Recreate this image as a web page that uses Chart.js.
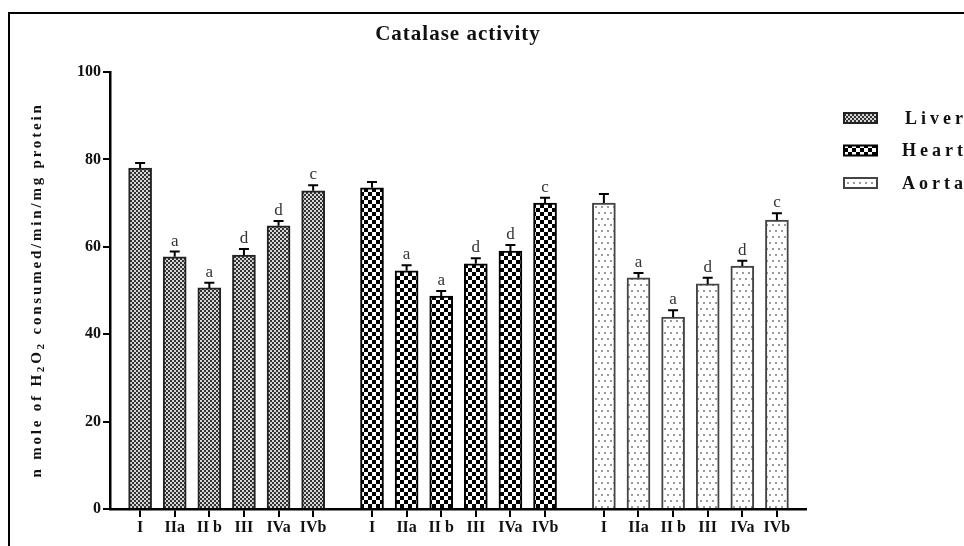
<!DOCTYPE html>
<html>
<head>
<meta charset="utf-8">
<script src="https://cdn.jsdelivr.net/npm/chart.js@4/dist/chart.umd.min.js"></script>
<style>
  body { margin: 0; background: #fff; }
  #wrap { width: 964px; height: 546px; }
</style>
</head>
<body>
<div id="wrap"><canvas id="chart" width="964" height="546"></canvas></div>
<script>
// data
const tissues = ['Liver', 'Heart', 'Aorta'];
const groups = ['I', 'IIa', 'II b', 'III', 'IVa', 'IVb'];
const liver = [78.0, 57.7, 50.6, 58.1, 64.8, 72.8];
const heart = [73.5, 54.5, 48.7, 56.1, 59.0, 70.0];
const aorta = [70.0, 52.9, 43.9, 51.5, 55.6, 66.1];
const liverErr = [1.2, 1.2, 1.2, 1.4, 1.1, 1.3];
const heartErr = [1.3, 1.3, 1.2, 1.3, 1.4, 1.2];
const aortaErr = [2.1, 1.1, 1.6, 1.4, 1.2, 1.6];
const liverSig = ['', 'a', 'a', 'd', 'd', 'c'];
const heartSig = ['', 'a', 'a', 'd', 'd', 'c'];
const aortaSig = ['', 'a', 'a', 'd', 'd', 'c'];

const SERIF = '"Liberation Serif", "DejaVu Serif", serif';
const GROUP_STEP = 6.7;   // slot distance between first bars of each tissue

// fill patterns
const makeTile = (w, h, draw) => {
  const c = document.createElement('canvas');
  c.width = w; c.height = h;
  const g = c.getContext('2d');
  draw(g);
  return g.createPattern(c, 'repeat');
};

const liverFill = makeTile(4, 4, g => {
  g.fillStyle = '#333';
  g.fillRect(0, 0, 4, 4);
  g.fillStyle = '#d6d6d6';
  g.fillRect(0, 0, 2, 2);
  g.fillRect(2, 2, 2, 2);
});
const heartFill = makeTile(8, 8, g => {
  g.fillStyle = '#fff';
  g.fillRect(0, 0, 8, 8);
  g.fillStyle = '#000';
  g.fillRect(0, 0, 4, 4);
  g.fillRect(4, 4, 4, 4);
});
const aortaFill = makeTile(6, 12, g => {
  g.fillStyle = '#fff';
  g.fillRect(0, 0, 6, 12);
  g.fillStyle = '#9a9a9a';
  g.fillRect(1, 2, 2, 2);
  g.fillRect(4, 8, 2, 2);
});

const fills = [liverFill, heartFill, aortaFill];
const edges = ['#222', '#000', '#444'];
const values = [liver, heart, aorta];
const errs = [liverErr, heartErr, aortaErr];
const sigs = [liverSig, heartSig, aortaSig];

const tickPos = [];
tissues.forEach((t, g) => groups.forEach((_, i) => tickPos.push(g * GROUP_STEP + i)));

const datasets = tissues.map((t, g) => ({
  label: t,
  data: values[g].map((v, i) => ({ x: g * GROUP_STEP + i, y: v })),
  backgroundColor: fills[g],
  borderColor: edges[g],
  borderWidth: 2,
  borderSkipped: 'bottom',
  barThickness: 23,
  grouped: false
}));

// error bars + significance letters
const errorBars = {
  id: 'errorBars',
  afterDatasetsDraw(chart) {
    const ctx = chart.ctx;
    const y = chart.scales.y;
    ctx.save();
    ctx.strokeStyle = '#000';
    ctx.lineWidth = 2;
    ctx.fillStyle = '#333';
    ctx.font = '17px ' + SERIF;
    ctx.textAlign = 'center';
    ctx.textBaseline = 'alphabetic';
    chart.data.datasets.forEach((ds, g) => {
      const meta = chart.getDatasetMeta(g);
      meta.data.forEach((bar, i) => {
        const top = y.getPixelForValue(values[g][i] + errs[g][i]);
        ctx.beginPath();
        ctx.moveTo(bar.x, bar.y);
        ctx.lineTo(bar.x, top);
        ctx.moveTo(bar.x - 5, top);
        ctx.lineTo(bar.x + 5, top);
        ctx.stroke();
        if (sigs[g][i]) ctx.fillText(sigs[g][i], bar.x, top - 6);
      });
    });
    ctx.restore();
  }
};

// frame, title, y title, legend
const decor = {
  id: 'decor',
  afterDraw(chart) {
    const ctx = chart.ctx;
    ctx.save();
    ctx.strokeStyle = '#000';
    ctx.lineWidth = 2;
    ctx.beginPath();
    ctx.moveTo(9, 546);
    ctx.lineTo(9, 13);
    ctx.lineTo(964, 13);
    ctx.stroke();

    ctx.fillStyle = '#111';
    ctx.textAlign = 'center';
    ctx.textBaseline = 'middle';
    ctx.font = 'bold 21px ' + SERIF;
    ctx.letterSpacing = '1px';
    ctx.fillText('Catalase activity', 458, 35);

    // rotated y title with subscripts
    ctx.save();
    ctx.translate(37, 290);
    ctx.rotate(-Math.PI / 2);
    ctx.letterSpacing = '2.8px';
    const parts = [['n mole of H', 15], ['2', 11], ['O', 15], ['2', 11], [' consumed/min/mg protein', 15]];
    let total = 0;
    parts.forEach(p => { ctx.font = 'bold ' + p[1] + 'px ' + SERIF; total += ctx.measureText(p[0]).width; });
    let x = -total / 2;
    ctx.textAlign = 'left';
    parts.forEach(p => {
      ctx.font = 'bold ' + p[1] + 'px ' + SERIF;
      ctx.fillText(p[0], x, p[1] < 15 ? 4 : 0);
      x += ctx.measureText(p[0]).width;
    });
    ctx.restore();

    // legend
    ctx.font = 'bold 18px ' + SERIF;
    ctx.letterSpacing = '4px';
    ctx.textAlign = 'left';
    tissues.forEach((t, g) => {
      const cy = 118 + g * 32.5;
      ctx.fillStyle = fills[g];
      ctx.fillRect(844, cy - 5, 33, 10);
      ctx.strokeStyle = edges[g];
      ctx.lineWidth = 2;
      ctx.strokeRect(844, cy - 5, 33, 10);
      ctx.fillStyle = '#111';
      const w = ctx.measureText(t).width;
      ctx.fillText(t, 967 - w, cy + 1);
    });
    ctx.restore();
  }
};

new Chart(document.getElementById('chart'), {
  type: 'bar',
  data: { datasets },
  options: {
    responsive: false,
    animation: false,
    layout: { padding: { left: 10, top: 72, right: 158, bottom: 0 } },
    plugins: { legend: { display: false }, title: { display: false }, tooltip: { enabled: false } },
    scales: {
      x: {
        type: 'linear',
        offset: false,
        min: -0.87,
        max: 2 * GROUP_STEP + 5 + 0.84,
        afterBuildTicks: s => { s.ticks = tickPos.map(v => ({ value: v })); },
        afterFit: s => { s.height = 37; },
        border: { display: true, color: '#000', width: 2.5 },
        grid: { display: true, offset: false, drawOnChartArea: false, drawTicks: true, tickLength: 8, color: '#000', lineWidth: 2 },
        ticks: {
          autoSkip: false,
          maxRotation: 0,
          padding: 1,
          color: '#111',
          font: { family: SERIF, weight: 'bold', size: 16 },
          callback: (v, i) => groups[i % groups.length]
        }
      },
      y: {
        min: 0,
        max: 100,
        afterFit: s => { s.width = 100; },
        border: { display: true, color: '#000', width: 2.5 },
        grid: { display: true, drawOnChartArea: false, drawTicks: true, tickLength: 7, color: '#000', lineWidth: 2 },
        ticks: {
          stepSize: 20,
          padding: 2,
          color: '#111',
          font: { family: SERIF, weight: 'bold', size: 16 }
        }
      }
    }
  },
  plugins: [errorBars, decor]
});
</script>
</body>
</html>
